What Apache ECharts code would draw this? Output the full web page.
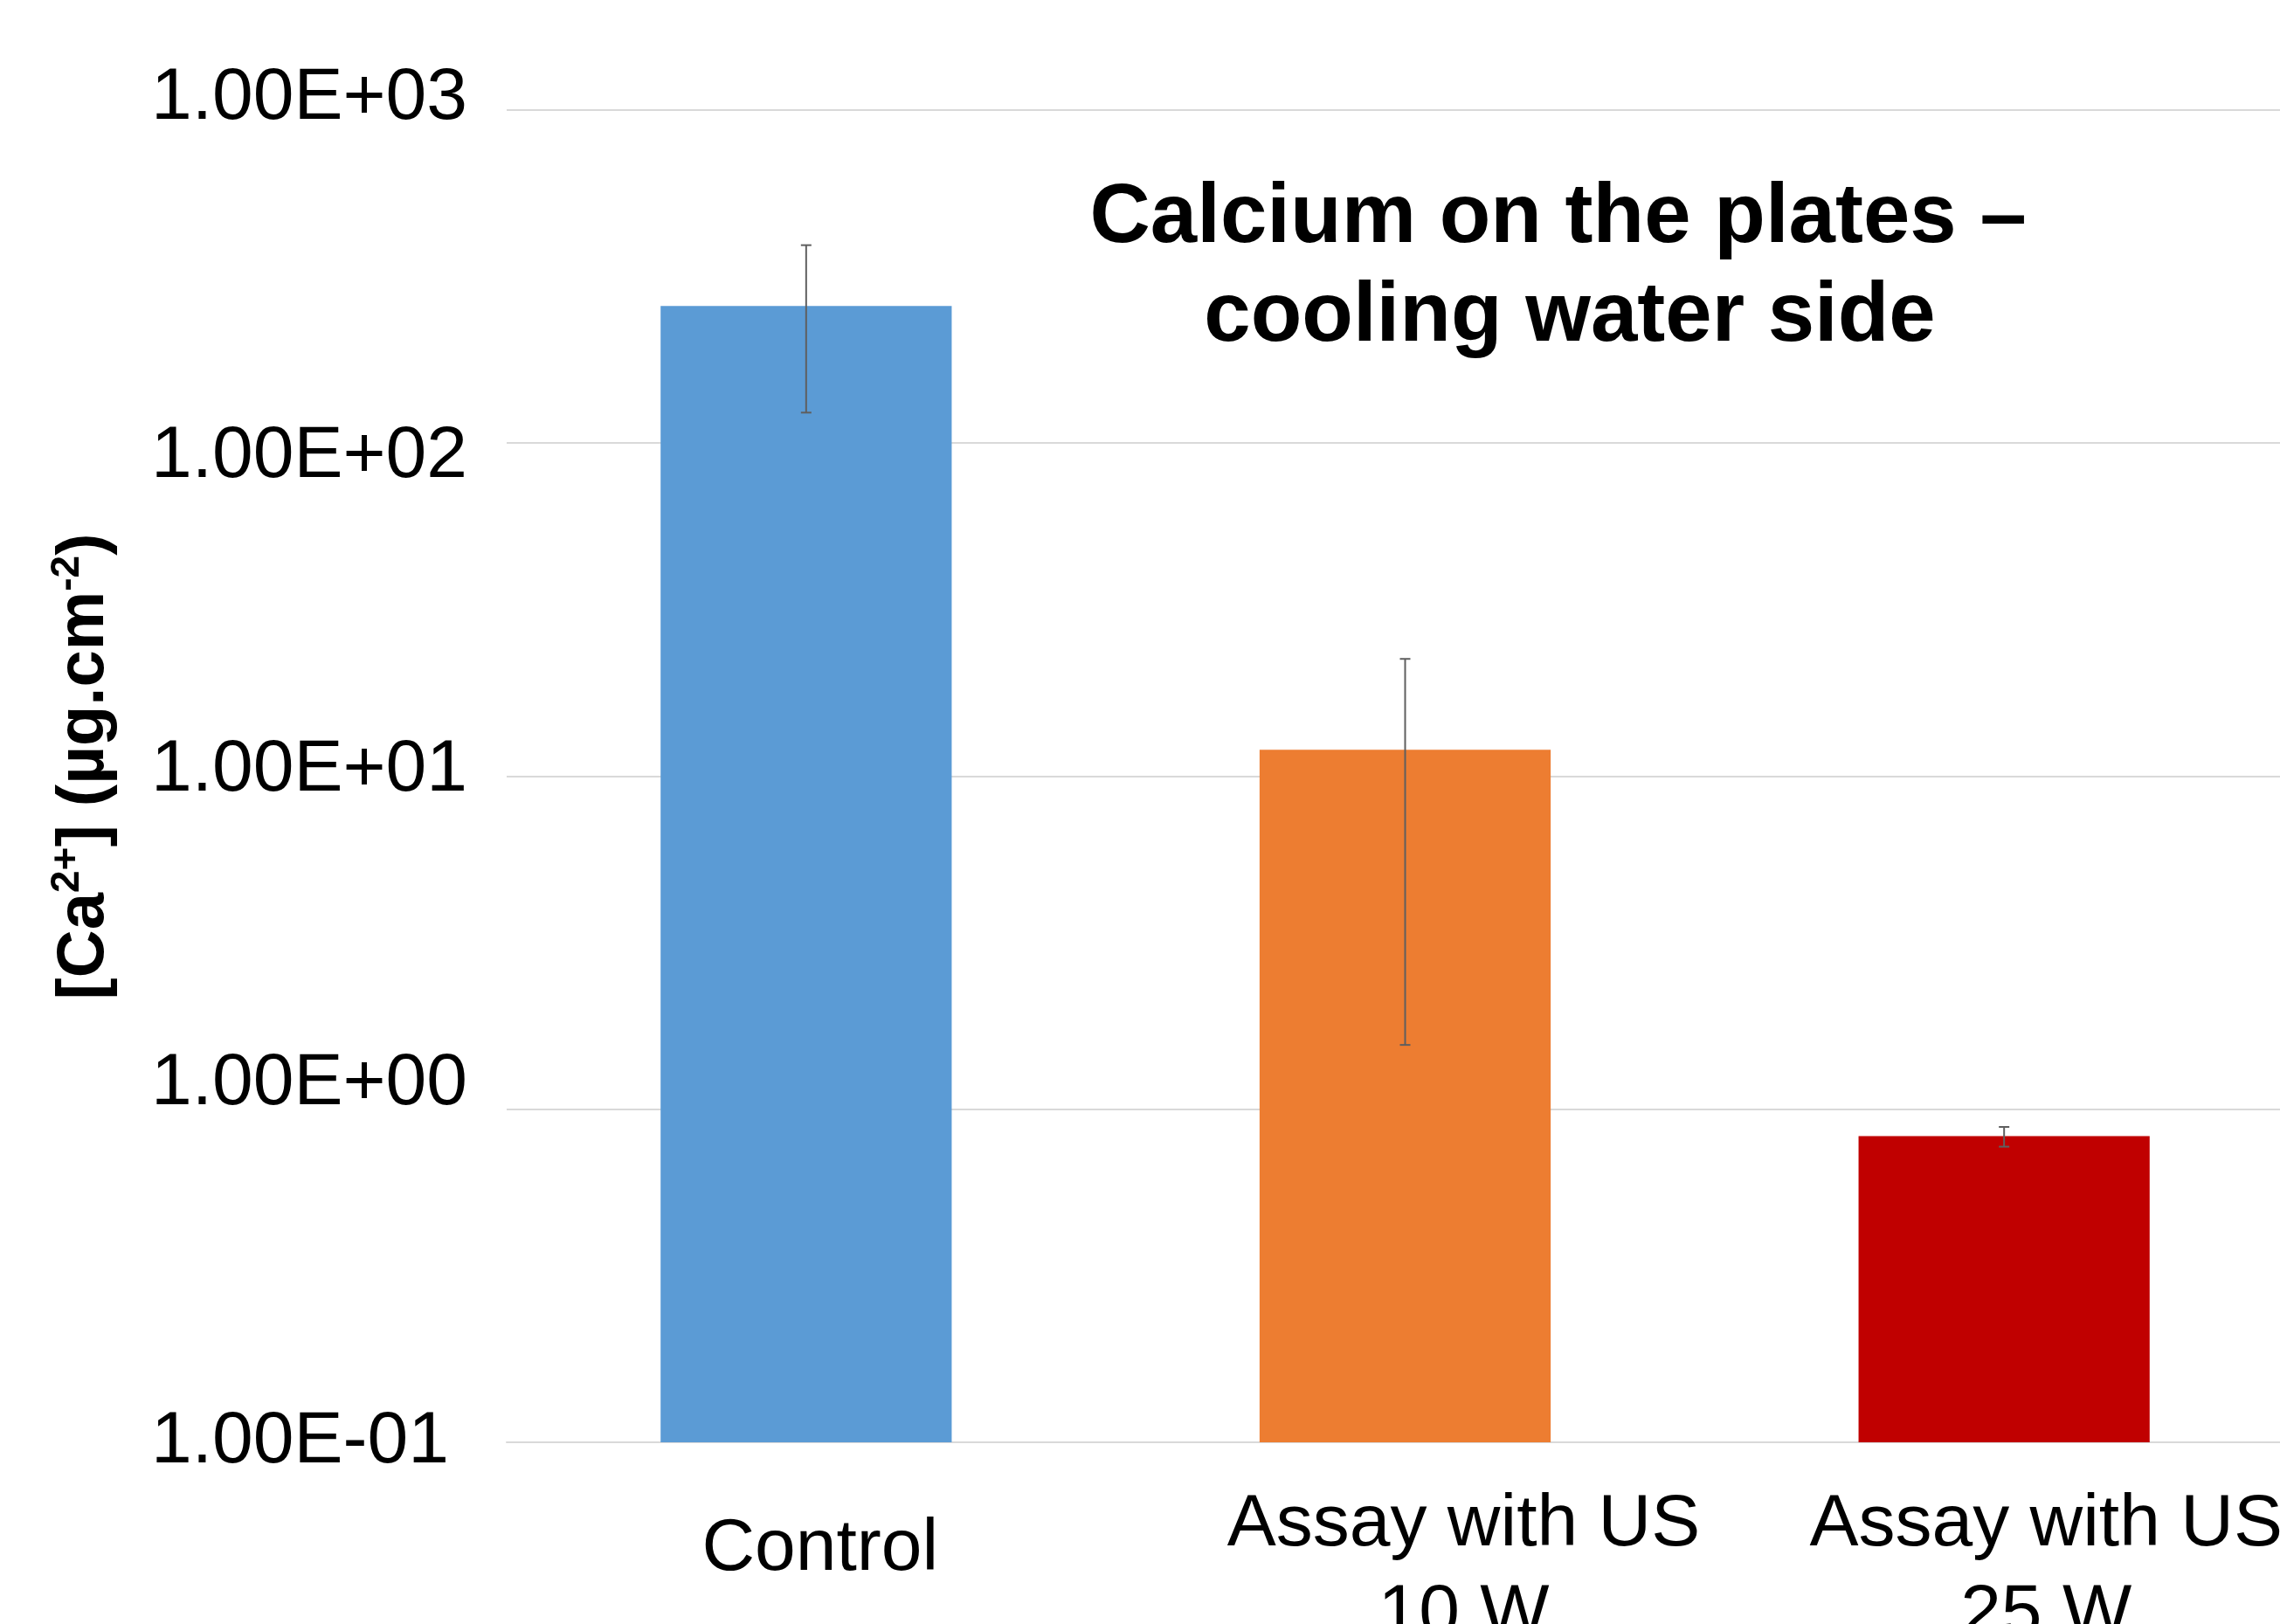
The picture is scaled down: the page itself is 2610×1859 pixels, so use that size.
<!DOCTYPE html>
<html>
<head>
<meta charset="utf-8">
<script src="https://cdn.jsdelivr.net/npm/echarts@6/dist/echarts.min.js"></script>
<style>
  html, body { margin: 0; padding: 0; background: #fff; }
  #main { width: 2610px; height: 1859px; }
</style>
</head>
<body>
<div id="main"></div>
<script>
// data
var categories = ['Control', 'Assay with US\n10 W', 'Assay with US\n25 W'];
var calcium = [258, 12.0, 0.83];
var errLow = [123.5, 1.56, 0.772];
var errHigh = [393, 22.5, 0.885];
var barColors = ['#5B9BD5', '#ED7D31', '#C00000'];
var yTickLabels = ['1.00E-01', '1.00E+00', '1.00E+01', '1.00E+02', '1.00E+03'];
var yMin = 0.1;

var chart = echarts.init(document.getElementById('main'));

var font = '"Liberation Sans", Arial, sans-serif';

// tick label style; the source picture nudges some labels off their gridline
function tickStyle(pad) {
  return { fontFamily: font, fontSize: 84, color: '#000', padding: pad };
}

var option = {
  backgroundColor: '#fff',
  animation: false,
  title: {
    // trailing space on line 1 as in the original (line 2 sits a bit right)
    text: 'Calcium on the plates – \ncooling water side',
    left: 1792,
    top: 189,
    textAlign: 'center',
    textStyle: {
      fontFamily: font,
      fontSize: 96,
      fontWeight: 'bold',
      color: '#000',
      lineHeight: 113
    }
  },
  grid: { left: 580, top: 126, width: 2057, height: 1525, outerBoundsMode: 'none', containLabel: false },
  xAxis: {
    type: 'category',
    data: categories,
    axisLine: { show: true, lineStyle: { color: '#d9d9d9', width: 2 } },
    axisTick: { show: false },
    axisLabel: {
      interval: 0,
      margin: 43,
      color: '#000',
      fontFamily: font,
      fontSize: 84,
      lineHeight: 103,
      formatter: function (v, i) {
        return v.split('\n').map(function (s) { return '{p' + i + '|' + s + '}'; }).join('\n');
      },
      rich: {
        p0: { fontFamily: font, fontSize: 84, lineHeight: 160, color: '#000', padding: [0, 0, 0, 32] },
        p1: { fontFamily: font, fontSize: 84, lineHeight: 103, color: '#000', padding: [0, 0, 0, 134] },
        p2: { fontFamily: font, fontSize: 84, lineHeight: 103, color: '#000', padding: [0, 0, 0, 96] }
      }
    }
  },
  yAxis: {
    type: 'log',
    logBase: 10,
    min: yMin,
    max: 1000,
    name: '[Ca{s|2+}] (µg.cm{s|-2})',
    nameLocation: 'middle',
    nameRotate: 90,
    nameGap: 440,
    nameTextStyle: {
      fontFamily: font,
      fontSize: 76,
      fontWeight: 'bold',
      color: '#000',
      lineHeight: 86,
      padding: [0, 0, 0, 22],
      rich: {
        s: { fontFamily: font, fontSize: 46, fontWeight: 'bold', color: '#000', verticalAlign: 'top', lineHeight: 62 }
      }
    },
    axisLine: { show: false },
    axisTick: { show: false },
    splitLine: { show: true, lineStyle: { color: '#d9d9d9', width: 2 } },
    axisLabel: {
      margin: 407,
      align: 'left',
      color: '#000',
      fontFamily: font,
      fontSize: 84,
      formatter: function (v, i) { return '{t' + i + '|' + yTickLabels[i] + '}'; },
      rich: {
        t0: tickStyle([0, 0, 0, 0]),
        t1: tickStyle([0, 0, 58, 0]),
        t2: tickStyle([0, 0, 14, 0]),
        t3: tickStyle([32, 0, 0, 0]),
        t4: tickStyle([0, 0, 26, 0])
      }
    }
  },
  series: [
    {
      // bars drawn from the bottom of the log axis
      type: 'custom',
      data: calcium.map(function (v, i) { return [i, v]; }),
      encode: { x: 0, y: 1 },
      renderItem: function (params, api) {
        var top = api.coord([api.value(0), api.value(1)]);
        var base = api.coord([api.value(0), yMin]);
        var w = api.size([1, 0])[0] * 0.486;
        return {
          type: 'rect',
          shape: { x: top[0] - w / 2, y: top[1], width: w, height: base[1] - top[1] },
          style: { fill: barColors[params.dataIndex] }
        };
      }
    },
    {
      type: 'custom',
      z: 10,
      data: categories.map(function (c, i) { return [i, errLow[i], errHigh[i]]; }),
      encode: { x: 0, y: [1, 2] },
      renderItem: function (params, api) {
        var lo = api.coord([api.value(0), api.value(1)]);
        var hi = api.coord([api.value(0), api.value(2)]);
        var w = 6;
        var style = { stroke: '#5f5f5f', lineWidth: 2 };
        return {
          type: 'group',
          children: [
            { type: 'line', shape: { x1: lo[0], y1: lo[1], x2: hi[0], y2: hi[1] }, style: style },
            { type: 'line', shape: { x1: lo[0] - w, y1: lo[1], x2: lo[0] + w, y2: lo[1] }, style: style },
            { type: 'line', shape: { x1: hi[0] - w, y1: hi[1], x2: hi[0] + w, y2: hi[1] }, style: style }
          ]
        };
      }
    }
  ]
};

chart.setOption(option);
</script>
</body>
</html>
